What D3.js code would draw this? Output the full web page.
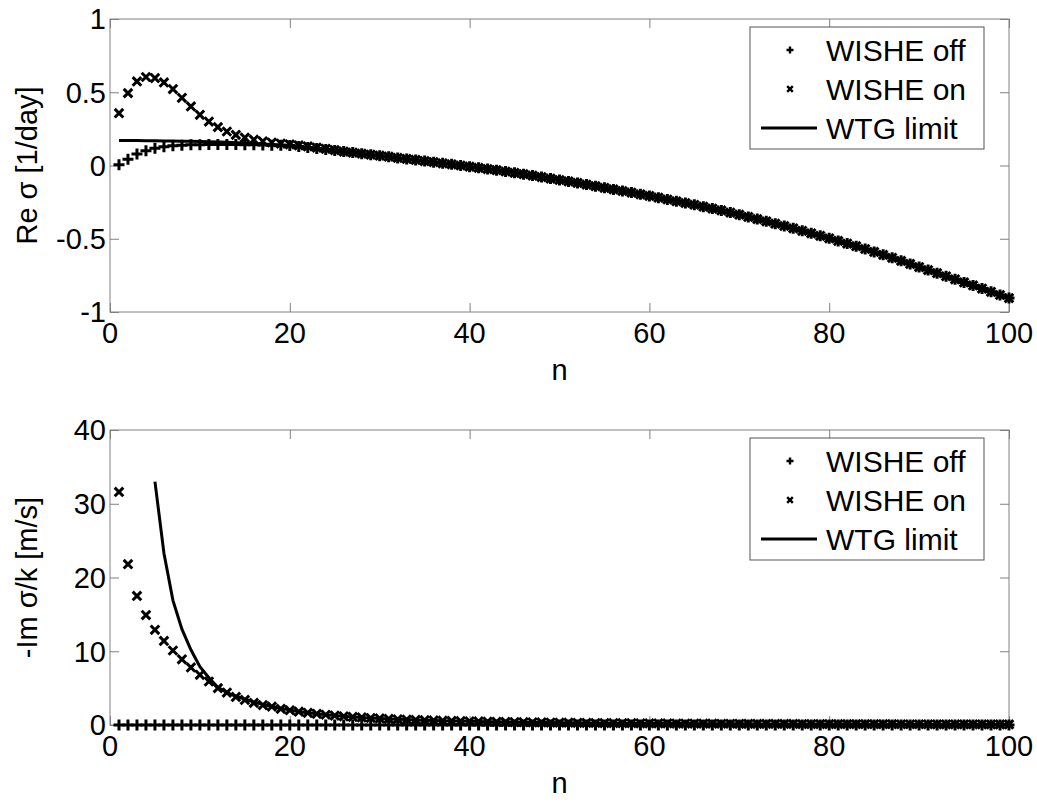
<!DOCTYPE html>
<html>
<head>
<meta charset="utf-8">
<script src="https://cdn.jsdelivr.net/npm/d3@7"></script>
<style>
  body { margin: 0; background: #fff; }
  text { font-family: Arial, "Liberation Sans", Helvetica, sans-serif; fill: #000; }
</style>
</head>
<body>
<svg id="chart" width="1037" height="804"></svg>
<script>
// wavenumber index
var n = d3.range(1, 101);
var xTicks = [0, 20, 40, 60, 80, 100];

// --- top panel: Re sigma [1/day] ---
// n = 1..25 (where the three curves differ)
var reOffHead = [0.005, 0.042, 0.079, 0.100, 0.117, 0.128, 0.135, 0.139, 0.141, 0.142,
                 0.143, 0.143, 0.143, 0.143, 0.142, 0.141, 0.140, 0.139, 0.138, 0.137,
                 0.130, 0.123, 0.116, 0.109, 0.102];
var reOnHead = [0.357, 0.494, 0.574, 0.604, 0.597, 0.567, 0.522, 0.462, 0.403, 0.346,
                0.300, 0.262, 0.232, 0.209, 0.190, 0.176, 0.165, 0.157, 0.150, 0.144,
                0.137, 0.130, 0.122, 0.114, 0.105];
var reWtgHead = [0.170, 0.170, 0.170, 0.169, 0.169, 0.168, 0.167, 0.166, 0.165, 0.164,
                 0.162, 0.160, 0.158, 0.156, 0.153, 0.150, 0.147, 0.144, 0.140, 0.137,
                 0.132, 0.125, 0.117, 0.110, 0.102];
// n = 26..100 (curves collapse on each other)
var reTail = [0.095, 0.088, 0.081, 0.074, 0.067, 0.060, 0.052, 0.045, 0.038, 0.030,
              0.023, 0.015, 0.008, 0.000, -0.008, -0.016, -0.024, -0.032, -0.041, -0.050,
              -0.059, -0.069, -0.079, -0.089, -0.099, -0.109, -0.119, -0.130, -0.141, -0.152,
              -0.163, -0.174, -0.185, -0.197, -0.208, -0.220, -0.232, -0.244, -0.256, -0.268,
              -0.281, -0.294, -0.307, -0.321, -0.336, -0.351, -0.366, -0.381, -0.397, -0.413,
              -0.429, -0.446, -0.463, -0.480, -0.497, -0.515, -0.533, -0.551, -0.570, -0.590,
              -0.610, -0.630, -0.651, -0.672, -0.693, -0.714, -0.735, -0.756, -0.777, -0.798,
              -0.819, -0.840, -0.862, -0.884, -0.905];
var reYTicks = [-1, -0.5, 0, 0.5, 1];

// --- bottom panel: -Im sigma/k [m/s] ---
var imOff = [0, 0, 0, 0, 0, 0, 0, 0, 0, 0,  0, 0, 0, 0, 0, 0, 0, 0, 0, 0,
             0, 0, 0, 0, 0, 0, 0, 0, 0, 0,  0, 0, 0, 0, 0, 0, 0, 0, 0, 0,
             0, 0, 0, 0, 0, 0, 0, 0, 0, 0,  0, 0, 0, 0, 0, 0, 0, 0, 0, 0,
             0, 0, 0, 0, 0, 0, 0, 0, 0, 0,  0, 0, 0, 0, 0, 0, 0, 0, 0, 0,
             0, 0, 0, 0, 0, 0, 0, 0, 0, 0,  0, 0, 0, 0, 0, 0, 0, 0, 0, 0];
// n = 1..20
var imOnHead = [31.6, 21.8, 17.5, 14.9, 12.9, 11.4, 10.1, 8.9, 7.8, 6.8,
                5.9, 5.0, 4.4, 3.8, 3.4, 3.0, 2.7, 2.5, 2.2, 2.0];
var imWtgHead = [null, null, null, null, 33.0, 23.3, 16.9, 13.0, 10.2, 7.9,
                 6.4, 5.1, 4.4, 3.9, 3.5, 3.1, 2.8, 2.5, 2.25, 2.05];
// n = 21..100
var imTail = [1.81, 1.65, 1.51, 1.39, 1.28, 1.18, 1.10, 1.02, 0.95, 0.89,
              0.83, 0.78, 0.73, 0.69, 0.65, 0.62, 0.58, 0.55, 0.53, 0.50,
              0.48, 0.45, 0.43, 0.41, 0.40, 0.38, 0.36, 0.35, 0.33, 0.32,
              0.31, 0.30, 0.28, 0.27, 0.26, 0.26, 0.25, 0.24, 0.23, 0.22,
              0.21, 0.21, 0.20, 0.20, 0.19, 0.18, 0.18, 0.17, 0.17, 0.16,
              0.16, 0.15, 0.15, 0.15, 0.14, 0.14, 0.13, 0.13, 0.13, 0.13,
              0.12, 0.12, 0.12, 0.11, 0.11, 0.11, 0.11, 0.10, 0.10, 0.10,
              0.10, 0.09, 0.09, 0.09, 0.09, 0.09, 0.09, 0.08, 0.08, 0.08];
var imYTicks = [0, 10, 20, 30, 40];

var legendLabels = ["WISHE off", "WISHE on", "WTG limit"];

var svg = d3.select("#chart");
svg.append("rect").attr("width", 1037).attr("height", 804).attr("fill", "#fff");

var left = 110, right = 1009;
var axisColor = "#808080";
var fontSize = 29;
var capHalf = fontSize * 0.716 / 2;

function label(parent, x, y, str, anchor, rotated, size) {
  var t = "translate(" + x + "," + y + ")" + (rotated ? " rotate(-90)" : "");
  return parent.append("text").attr("transform", t)
    .attr("text-anchor", anchor).attr("font-size", size || fontSize).text(str);
}

var panels = [
  { top: 19, bottom: 312, yDomain: [-1, 1], yTicks: reYTicks, yLabel: "Re \u03c3 [1/day]",
    off: reOffHead.concat(reTail), on: reOnHead.concat(reTail), wtg: reWtgHead.concat(reTail) },
  { top: 430, bottom: 725, yDomain: [0, 40], yTicks: imYTicks, yLabel: "-Im \u03c3/k [m/s]",
    off: imOff, on: imOnHead.concat(imTail), wtg: imWtgHead.concat(imTail) }
];

var plusPath = "M-5.5,0H5.5M0,-5.5V5.5";
var crossPath = "M-4.3,-4.3L4.3,4.3M-4.3,4.3L4.3,-4.3";

panels.forEach(function (p, pi) {
  var g = svg.append("g");
  var x = d3.scaleLinear().domain([0, 100]).range([left, right]);
  var y = d3.scaleLinear().domain(p.yDomain).range([p.bottom, p.top]);

  // inward ticks on all four sides
  var axB = g.append("g").attr("transform", "translate(0," + p.bottom + ")")
    .call(d3.axisBottom(x).tickValues(xTicks).tickSizeInner(-9).tickSizeOuter(0).tickFormat(""));
  var axT = g.append("g").attr("transform", "translate(0," + p.top + ")")
    .call(d3.axisTop(x).tickValues(xTicks).tickSizeInner(-9).tickSizeOuter(0).tickFormat(""));
  var axL = g.append("g").attr("transform", "translate(" + left + ",0)")
    .call(d3.axisLeft(y).tickValues(p.yTicks).tickSizeInner(-9).tickSizeOuter(0).tickFormat(""));
  var axR = g.append("g").attr("transform", "translate(" + right + ",0)")
    .call(d3.axisRight(y).tickValues(p.yTicks).tickSizeInner(-9).tickSizeOuter(0).tickFormat(""));
  [axB, axT, axL, axR].forEach(function (a) {
    a.select(".domain").remove();
    a.selectAll(".tick line").attr("stroke", axisColor);
  });

  g.append("rect")
    .attr("x", left).attr("y", p.top)
    .attr("width", right - left).attr("height", p.bottom - p.top)
    .attr("fill", "none").attr("stroke", axisColor).attr("stroke-width", 1);

  // tick labels
  xTicks.forEach(function (d) {
    label(g, x(d), p.bottom + 31, String(d), "middle", false);
  });
  p.yTicks.forEach(function (d) {
    label(g, left - 4, y(d) + capHalf, String(d), "end", false);
  });

  // axis labels
  label(g, (left + right) / 2, p.bottom + 68, "n", "middle", false);
  label(g, 37, (p.top + p.bottom) / 2, p.yLabel, "middle", true);

  var clipId = "clip" + pi;
  g.append("clipPath").attr("id", clipId).append("rect")
    .attr("x", left - 7).attr("y", p.top).attr("width", right - left + 14).attr("height", p.bottom - p.top + 7);
  var plot = g.append("g").attr("clip-path", "url(#" + clipId + ")");

  plot.append("g").selectAll("path").data(p.off).join("path")
    .attr("transform", function (d, i) { return "translate(" + x(n[i]) + "," + y(d) + ")"; })
    .attr("d", plusPath).attr("stroke", "#000").attr("stroke-width", 3).attr("fill", "none");

  plot.append("g").selectAll("path").data(p.on).join("path")
    .attr("transform", function (d, i) { return "translate(" + x(n[i]) + "," + y(d) + ")"; })
    .attr("d", crossPath).attr("stroke", "#000").attr("stroke-width", 3).attr("fill", "none");

  var line = d3.line()
    .defined(function (d) { return d != null; })
    .x(function (d, i) { return x(n[i]); })
    .y(function (d) { return y(d); });
  plot.append("path").datum(p.wtg)
    .attr("d", line).attr("fill", "none").attr("stroke", "#000").attr("stroke-width", 3);

  // legend
  var lx = 750, ly = p.top + 8;
  var lg = g.append("g");
  lg.append("rect").attr("x", lx).attr("y", ly).attr("width", 234).attr("height", 122)
    .attr("fill", "#fff").attr("stroke", "#555").attr("stroke-width", 1);
  var rows = [23, 62, 101];
  lg.append("path").attr("transform", "translate(" + (lx + 40) + "," + (ly + rows[0]) + ")")
    .attr("d", "M-3.5,0H3.5M0,-3.5V3.5").attr("stroke", "#000").attr("stroke-width", 2.4);
  lg.append("path").attr("transform", "translate(" + (lx + 40) + "," + (ly + rows[1]) + ")")
    .attr("d", "M-2.8,-2.8L2.8,2.8M-2.8,2.8L2.8,-2.8").attr("stroke", "#000").attr("stroke-width", 2.4);
  lg.append("line").attr("x1", lx + 11).attr("x2", lx + 67)
    .attr("y1", ly + rows[2]).attr("y2", ly + rows[2]).attr("stroke", "#000").attr("stroke-width", 3);
  legendLabels.forEach(function (d, i) {
    label(lg, lx + 76, ly + rows[i] + 30 * 0.716 / 2, d, "start", false, 30);
  });
});
</script>
</body>
</html>
